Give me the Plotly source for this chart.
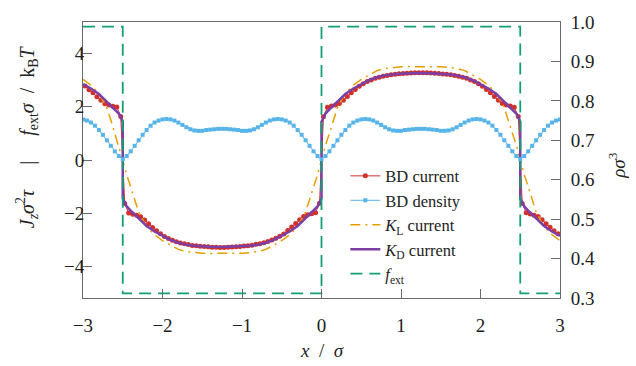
import numpy as np
import plotly.graph_objects as go

# ---------------- data ----------------
# BD current, sampled on bin centres (step 0.05) from -2.975 to 2.975
x_bd = np.round(np.linspace(-2.975, 2.975, 120), 3)
j_bd = [
    2.77, 2.63, 2.52, 2.37, 2.24, 2.11, 2.06, 2.01, 1.99, 1.63,
    -1.63, -1.99, -2.03, -2.07, -2.13, -2.25, -2.39, -2.53, -2.65, -2.76,
    -2.87, -2.94, -3.01, -3.06, -3.11, -3.14, -3.17, -3.20, -3.21, -3.23,
    -3.24, -3.25, -3.27, -3.27, -3.28,
    -3.28, -3.27, -3.26, -3.25, -3.24, -3.22, -3.21, -3.19, -3.16, -3.14,
    -3.10, -3.05, -3.00, -2.93, -2.86, -2.77, -2.64, -2.51, -2.38, -2.24,
    -2.12, -2.05, -2.01, -1.98, -1.62,
    1.62, 1.98, 2.02, 2.06, 2.12, 2.24, 2.38, 2.52, 2.64, 2.76,
    2.86, 2.94, 3.00, 3.06, 3.10, 3.14, 3.17, 3.19, 3.21, 3.23,
    3.24, 3.25, 3.26, 3.27, 3.27,
    3.27, 3.27, 3.26, 3.25, 3.24, 3.22, 3.21, 3.19, 3.17, 3.14,
    3.10, 3.06, 3.00, 2.94, 2.86, 2.76, 2.64, 2.52, 2.38, 2.24,
    2.12, 2.06, 2.02, 1.98, 1.63,
    -1.63, -1.98, -2.02, -2.07, -2.12, -2.24, -2.39, -2.52, -2.65, -2.76,
]

# BD density, sampled every 0.05 from -3 to 3
x_rho = np.round(np.linspace(-3.0, 3.0, 121), 3)
rho_bd = [
    0.753, 0.750, 0.745, 0.737, 0.726, 0.714, 0.700, 0.686, 0.672, 0.660, 0.652,
    0.660, 0.672, 0.686, 0.700, 0.714, 0.726, 0.737, 0.745, 0.750, 0.753,
    0.754, 0.753, 0.750, 0.745, 0.739, 0.733, 0.728, 0.725, 0.724, 0.724,
    0.726, 0.727, 0.728, 0.729, 0.729,
    0.729, 0.728, 0.727, 0.726, 0.724, 0.724, 0.725, 0.728, 0.733, 0.739,
    0.745, 0.750, 0.753, 0.754, 0.753, 0.750, 0.745, 0.737, 0.726, 0.714,
    0.700, 0.686, 0.672, 0.660, 0.652,
    0.660, 0.672, 0.686, 0.700, 0.714, 0.726, 0.737, 0.745, 0.750, 0.753,
    0.754, 0.753, 0.750, 0.745, 0.739, 0.733, 0.728, 0.725, 0.724, 0.724,
    0.726, 0.727, 0.728, 0.729, 0.729,
    0.729, 0.728, 0.727, 0.726, 0.724, 0.724, 0.725, 0.728, 0.733, 0.739,
    0.745, 0.750, 0.753, 0.754, 0.753, 0.750, 0.745, 0.737, 0.726, 0.714,
    0.700, 0.686, 0.672, 0.660, 0.652,
    0.660, 0.672, 0.686, 0.700, 0.714, 0.726, 0.737, 0.745, 0.750, 0.753,
]

# K_D current (jumps at the walls x = -2.5, 0, 2.5)
x_kd = [-3.0, -2.9, -2.8, -2.7, -2.65, -2.6, -2.55, -2.525, -2.5,
        -2.5, -2.475, -2.45, -2.4, -2.35, -2.3, -2.2, -2.1, -2.0, -1.9, -1.8,
        -1.7, -1.6, -1.5, -1.4, -1.25, -1.1, -1.0, -0.9, -0.8, -0.7, -0.6,
        -0.5, -0.4, -0.3, -0.2, -0.15, -0.1, -0.05, -0.025, 0.0,
        0.0, 0.025, 0.05, 0.1, 0.15, 0.2, 0.3, 0.4, 0.5, 0.6, 0.7, 0.8,
        0.9, 1.0, 1.1, 1.25, 1.4, 1.5, 1.6, 1.7, 1.8, 1.9, 2.0, 2.1, 2.2,
        2.3, 2.35, 2.4, 2.45, 2.475, 2.5,
        2.5, 2.525, 2.55, 2.6, 2.65, 2.7, 2.8, 2.9, 3.0]
j_kd = [2.84, 2.68, 2.47, 2.19, 2.04, 1.90, 1.74, 1.62, 1.43,
        -1.43, -1.62, -1.74, -1.90, -2.04, -2.19, -2.47, -2.68, -2.84, -2.99, -3.10,
        -3.17, -3.21, -3.24, -3.25, -3.26, -3.25, -3.24, -3.21, -3.17, -3.10, -2.99,
        -2.84, -2.68, -2.47, -2.19, -2.04, -1.90, -1.74, -1.62, -1.43,
        1.43, 1.62, 1.74, 1.90, 2.04, 2.19, 2.47, 2.68, 2.84, 2.99, 3.10, 3.17,
        3.21, 3.24, 3.25, 3.26, 3.25, 3.24, 3.21, 3.17, 3.10, 2.99, 2.84, 2.68, 2.47,
        2.19, 2.04, 1.90, 1.74, 1.62, 1.43,
        -1.43, -1.62, -1.74, -1.90, -2.04, -2.19, -2.47, -2.68, -2.84]

# K_L current (continuous)
x_kl = [-3.0, -2.9, -2.8, -2.7, -2.65, -2.6, -2.55, -2.525, -2.5,
        -2.475, -2.45, -2.4, -2.35, -2.3, -2.2, -2.1, -2.0, -1.9, -1.8,
        -1.7, -1.6, -1.5, -1.4, -1.25, -1.1, -1.0, -0.9, -0.8, -0.7, -0.6,
        -0.5, -0.4, -0.3, -0.2, -0.15, -0.1, -0.05, -0.025, 0.0,
        0.025, 0.05, 0.1, 0.15, 0.2, 0.3, 0.4, 0.5, 0.6, 0.7, 0.8,
        0.9, 1.0, 1.1, 1.25, 1.4, 1.5, 1.6, 1.7, 1.8, 1.9, 2.0, 2.1, 2.2,
        2.3, 2.35, 2.4, 2.45, 2.475, 2.5,
        2.525, 2.55, 2.6, 2.65, 2.7, 2.8, 2.9, 3.0]
j_kl = [3.02, 2.80, 2.50, 1.95, 1.50, 1.00, 0.55, 0.28, 0.0,
        -0.28, -0.55, -1.00, -1.50, -1.95, -2.50, -2.80, -3.02, -3.20, -3.35,
        -3.43, -3.47, -3.49, -3.50, -3.50, -3.50, -3.49, -3.47, -3.43, -3.35, -3.20,
        -3.02, -2.80, -2.50, -1.95, -1.50, -1.00, -0.55, -0.28, 0.0,
        0.28, 0.55, 1.00, 1.50, 1.95, 2.50, 2.80, 3.02, 3.20, 3.35, 3.43,
        3.47, 3.49, 3.50, 3.50, 3.50, 3.49, 3.47, 3.43, 3.35, 3.20, 3.02, 2.80, 2.50,
        1.95, 1.50, 1.00, 0.55, 0.28, 0.0,
        -0.28, -0.55, -1.00, -1.50, -1.95, -2.50, -2.80, -3.02]

# external force
x_f = [-3.0, -2.5, -2.5, 0.0, 0.0, 2.5, 2.5, 3.0]
f_ext = [5, 5, -5, -5, 5, 5, -5, -5]

x_ticks = [-3, -2, -1, 0, 1, 2, 3]
y_ticks = [-4, -2, 0, 2, 4]
y2_ticks = [0.3, 0.4, 0.5, 0.6, 0.7, 0.8, 0.9, 1.0]

# ---------------- style ----------------
FONT = "Liberation Serif"
C_RED = "#d2302a"
C_BLUE = "#56b4e9"
C_ORANGE = "#e69f00"
C_PURPLE = "#7b3fa6"
C_GREEN = "#149e74"
AX = "#6a6a6a"

fig = go.Figure()
fig.add_trace(go.Scatter(
    x=x_bd, y=j_bd, name="BD current", mode="lines+markers",
    line=dict(color=C_RED, width=1), marker=dict(color=C_RED, size=5, symbol="circle")))
fig.add_trace(go.Scatter(
    x=x_rho, y=rho_bd, name="BD density", mode="lines+markers", yaxis="y2",
    line=dict(color=C_BLUE, width=1), marker=dict(color=C_BLUE, size=4, symbol="square")))
fig.add_trace(go.Scatter(
    x=x_kl, y=j_kl, name="<i>K</i><sub>L</sub> current", mode="lines",
    line=dict(color=C_ORANGE, width=1.5, dash="10px,5px,2px,5px")))
fig.add_trace(go.Scatter(
    x=x_kd, y=j_kd, name="<i>K</i><sub>D</sub> current", mode="lines",
    line=dict(color=C_PURPLE, width=2.5)))
fig.add_trace(go.Scatter(
    x=x_f, y=f_ext, name="<i>f</i><sub>ext</sub>", mode="lines",
    line=dict(color=C_GREEN, width=1.8, dash="12px,7px")))

axis_common = dict(showgrid=False, zeroline=False, showline=True, linecolor=AX,
                   linewidth=1, ticks="inside", ticklen=9, tickcolor=AX, tickwidth=1,
                   tickfont=dict(family=FONT, size=19, color="#222"))

fig.update_layout(
    width=636, height=366, autosize=False,
    margin=dict(l=83, r=76, t=17, b=68),
    paper_bgcolor="white", plot_bgcolor="white",
    font=dict(family=FONT, size=19, color="#222"),
    xaxis=dict(range=[-3, 3], tickvals=x_ticks, mirror=True, ticklabelstandoff=10,
               **axis_common),
    yaxis=dict(range=[-5.17, 5.17], tickvals=y_ticks, ticklabelstandoff=-6,
               **axis_common),
    yaxis2=dict(range=[0.3, 1.0], tickvals=y2_ticks, tickformat=".1f",
                overlaying="y", side="right", ticklabelstandoff=6, **axis_common),
    legend=dict(x=0.55, y=0.505, xanchor="left", yanchor="top",
                bgcolor="rgba(0,0,0,0)", font=dict(family=FONT, size=16.5, color="#222"),
                tracegroupgap=0),
    showlegend=True,
)

fig.add_annotation(
    text="<i>J</i><sub><i>z</i></sub><i>σ</i><sup>2</sup><i>τ</i>     |     "
         "<i>f</i><sub>ext</sub><i>σ</i>  /  k<sub>B</sub><i>T</i>",
    xref="paper", yref="paper", x=-0.118, y=0.585, textangle=-90,
    xanchor="center", yanchor="middle", showarrow=False,
    font=dict(family=FONT, size=20, color="#222"))
fig.add_annotation(
    text="<i>ρσ</i><sup>3</sup>",
    xref="paper", yref="paper", x=1.118, y=0.48, textangle=-90,
    xanchor="center", yanchor="middle", showarrow=False,
    font=dict(family=FONT, size=19, color="#222"))
fig.add_annotation(
    text="<i>x</i>  /  <i>σ</i>",
    xref="paper", yref="paper", x=0.5, y=-0.19,
    xanchor="center", yanchor="middle", showarrow=False,
    font=dict(family=FONT, size=19, color="#222"))

fig.write_html(
    "out.html",
    config={"displayModeBar": False},
    post_script="document.body.style.margin='0';document.body.style.padding='0';",
)
